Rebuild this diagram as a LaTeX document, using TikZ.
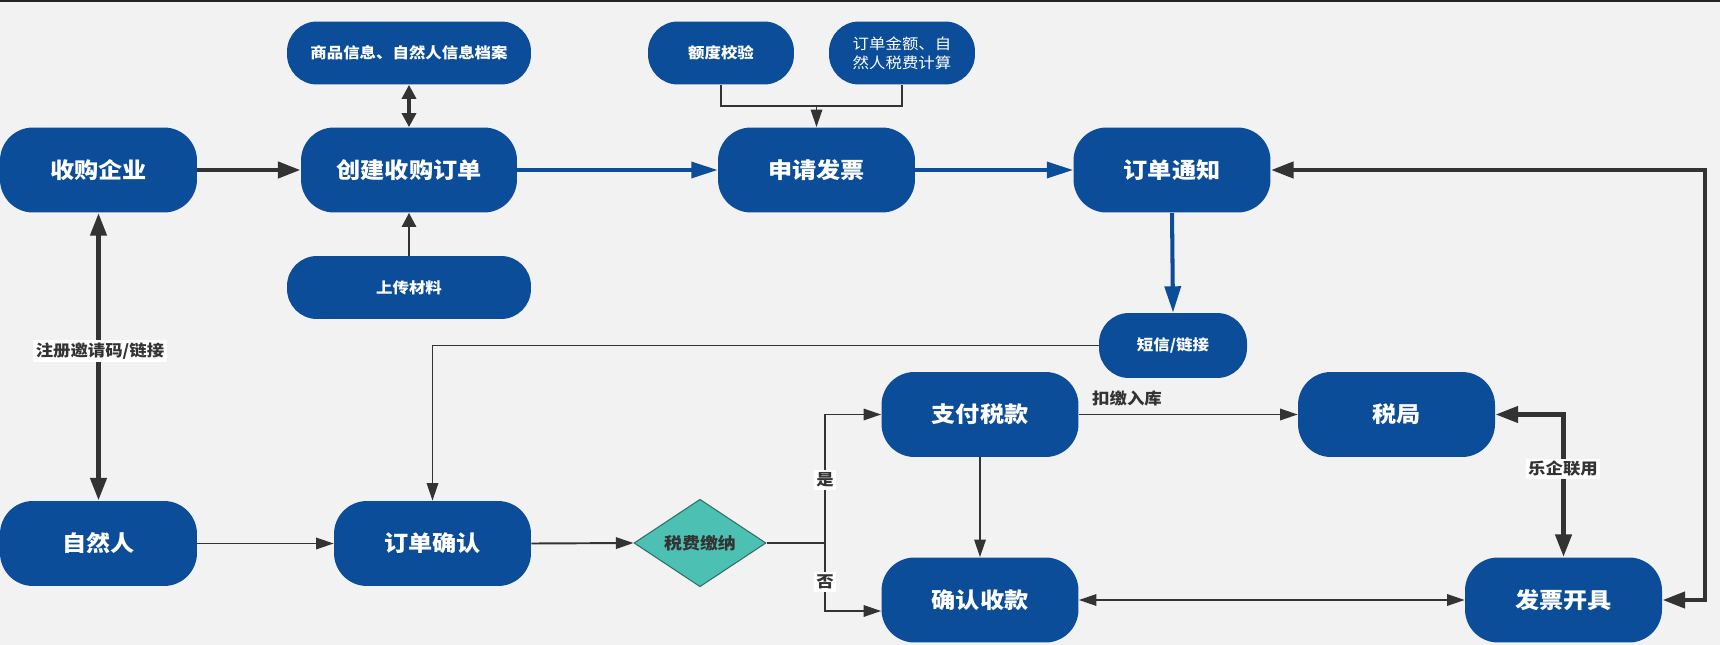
\documentclass[tikz,border=0pt]{standalone}
\usepackage{fontspec}
\newfontfamily\cjk[FakeStretch=1.1]{Noto Sans CJK SC}
\usetikzlibrary{arrows.meta,shapes.geometric}
\definecolor{nodeblue}{HTML}{0B4D98}
\definecolor{dk}{HTML}{333333}
\definecolor{bgc}{HTML}{F2F2F2}
\definecolor{tealfill}{HTML}{4DC0B4}
\definecolor{diaborder}{HTML}{2F6F66}
\tikzset{
  bignode/.style={fill=nodeblue, rounded corners=0.66cm, minimum width=3.94cm, minimum height=1.7cm,
    inner sep=0pt, text=white, font=\cjk\bfseries\fontsize{12.5pt}{15pt}\selectfont},
  smallnode/.style={fill=nodeblue, rounded corners=0.6cm, minimum height=1.26cm,
    inner sep=0pt, text=white, font=\cjk\bfseries\fontsize{8.5pt}{10.8pt}\selectfont},
  dia/.style={shape=diamond, fill=tealfill, draw=diaborder, line width=0.6pt,
    minimum width=2.64cm, minimum height=1.72cm, inner sep=0pt, text=dk,
    font=\cjk\bfseries\fontsize{9.3pt}{11pt}\selectfont},
  lbl/.style={text=dk, inner sep=1.5pt, font=\cjk\bfseries\fontsize{9pt}{11pt}\selectfont},
  thkA/.style={draw=dk, line width=2.8pt, line join=miter, -{Triangle[length=13pt,width=9pt]}},
  thkAA/.style={draw=dk, line width=2.8pt, line join=miter, {Triangle[length=13pt,width=9pt]}-{Triangle[length=13pt,width=9pt]}},
  medAA/.style={draw=dk, line width=1.9pt, {Triangle[length=8pt,width=8pt]}-{Triangle[length=8pt,width=8pt]}},
  medA/.style={draw=dk, line width=1.5pt, -{Triangle[length=8pt,width=8pt]}},
  thnL/.style={draw=dk, line width=1.1pt},
  thnA/.style={draw=dk, line width=1.1pt, -{Triangle[length=10pt,width=6.5pt]}},
  thnAA/.style={draw=dk, line width=1.1pt, {Triangle[length=10pt,width=6.5pt]}-{Triangle[length=10pt,width=6.5pt]}},
  blA/.style={draw=nodeblue, line width=2.3pt, -{Triangle[length=15pt,width=9pt]}},
}
\begin{document}
\begin{tikzpicture}[x=0.02cm,y=-0.02cm]
\fill[bgc] (0,0) rectangle (1720,645);
\useasboundingbox (0,0) rectangle (1720,645);
\fill[black!85] (0,0) rectangle (1720,2);

\node[bignode] (A) at (98.5,170) {收购企业};
\node[bignode,minimum width=4.32cm] (B) at (409,170) {创建收购订单};
\node[smallnode,minimum width=4.88cm] (C) at (409,53) {商品信息、自然人信息档案};
\node[smallnode,minimum width=4.88cm] (D) at (409,287.5) {上传材料};
\node[smallnode,minimum width=2.92cm] (E) at (721,53) {额度校验};
\node[smallnode,minimum width=2.92cm,align=center,font=\cjk\fontsize{8.5pt}{10.8pt}\selectfont] (F) at (902,53) {订单金额、自\\然人税费计算};
\node[bignode] (G) at (816.5,170) {申请发票};
\node[bignode] (H) at (1172,170) {订单通知};
\node[smallnode,minimum width=2.96cm,minimum height=1.3cm] (I) at (1173,345.5) {短信/链接};
\node[bignode] (J) at (98.5,543.5) {自然人};
\node[bignode] (K) at (432.5,543.5) {订单确认};
\node[dia] (L) at (700,543) {税费缴纳};
\node[bignode] (M) at (980,414.5) {支付税款};
\node[bignode] (N) at (1396.5,414.5) {税局};
\node[bignode] (O) at (980,600) {确认收款};
\node[bignode] (P) at (1563.5,600) {发票开具};

% top row
\draw[thkA] (A.east) -- (B.west);
\draw[medAA] (C.south) -- (B.north);
\draw[medA] (D.north) -- (B.south);
\coordinate (EF) at (816.5,106);
\draw[thnL] (E.south) |- (F.south |- EF) -- (F.south);
\draw[thnA] (EF) -- (G.north);
\draw[blA] (B.east) -- (G.west);
\draw[blA] (G.east) -- (H.west);
\draw[blA] (H.south) -- (I.north);

% right loop
\coordinate (R1) at (1705,170);
\coordinate (R2) at (1705,600);
\draw[thkAA] (H.east) -- (R1) -- (R2) -- (P.east);

% left
\draw[thkAA] (A.south) -- (J.north);
\node[lbl,fill=white] (regl) at (100,351) {注册邀请码/链接};

\draw[thnA] (I.west) -| (K.north);
\draw[thnA] (J.east) -- (K.west);
\draw[thnA] (K.east) -- (L.west);

\coordinate (BR) at (825,543);
\draw[thnL] (L.east) -- (BR);
\draw[thnA] (BR) |- (M.west);
\draw[thnA] (BR) |- ([yshift=-0.22cm]O.west);
\node[lbl,fill=white] (yes) at (825,480) {是};
\node[lbl,fill=white] (no) at (825,582) {否};

\draw[thnA] (M.south) -- (O.north);
\draw[thnA] (M.east) -- (N.west);
\node[lbl] (kj) at (1127,398) {扣缴入库};
\draw[thnAA] (O.east) -- (P.west);

\draw[thkAA] (N.east) -| (P.north);
\node[lbl,fill=white] (lq) at (1563,469) {乐企联用};
\end{tikzpicture}
\end{document}
